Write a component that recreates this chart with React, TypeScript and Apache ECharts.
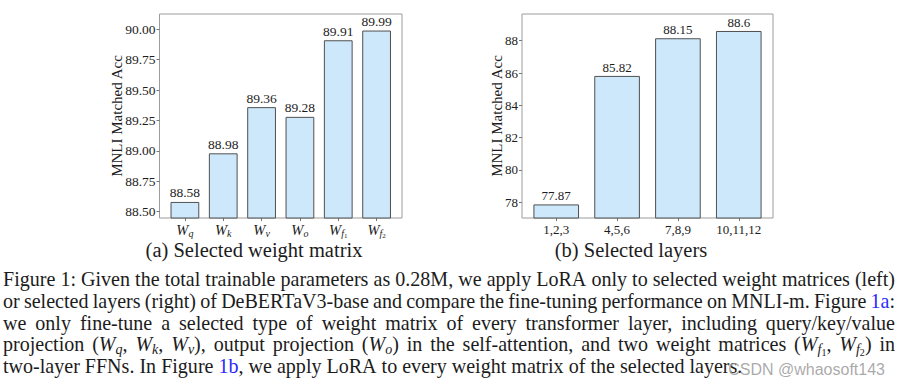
import React, { useEffect, useRef } from "react";
import * as echarts from "echarts";

const SERIF = "Liberation Serif, Times New Roman, Times, serif";
const SANS = "Liberation Sans, Arial, sans-serif";
const TEXT = "#1c1c1c";
const BAR_FILL = "#cce8fa";
const BAR_EDGE = "#505050";
const FRAME = "#9c9c9c";

// ---- (a) Selected weight matrix ----
const weightCategories = ["Wq", "Wk", "Wv", "Wo", "Wf1", "Wf2"];
const weightTickLabels = [
  "{w|W}{s|q}",
  "{w|W}{s|k}",
  "{w|W}{s|v}",
  "{w|W}{s|o}",
  "{w|W}{s|f}{ss|1}",
  "{w|W}{s|f}{ss|2}",
];
const weightAcc = [88.58, 88.98, 89.36, 89.28, 89.91, 89.99];
const weightYTicks = [88.5, 88.75, 89.0, 89.25, 89.5, 89.75, 90.0];

// ---- (b) Selected layers ----
const layerCategories = ["1,2,3", "4,5,6", "7,8,9", "10,11,12"];
const layerAcc = [77.87, 85.82, 88.15, 88.6];
const layerYTicks = [78, 80, 82, 84, 86, 88];

const yAxisName = "MNLI Matched Acc";
const subtitleA = "(a) Selected weight matrix";
const subtitleB = "(b) Selected layers";

const captionLines = [
  "Figure 1: Given the total trainable parameters as 0.28M, we apply LoRA only to selected weight matrices (left)",
  "or selected layers (right) of DeBERTaV3-base and compare the fine-tuning performance on MNLI-m. Figure {b|1a}:",
  "we only fine-tune a selected type of weight matrix of every transformer layer, including query/key/value",
  "projection ({i|W}{s|q}, {i|W}{s|k}, {i|W}{s|v}), output projection ({i|W}{s|o}) in the self-attention, and two weight matrices ({i|W}{s|f}{ss|1}, {i|W}{s|f}{ss|2}) in",
  "two-layer FFNs. In Figure {b|1b}, we apply LoRA to every weight matrix of the selected layers.",
];
const watermark = "CSDN @whaosoft143";

let measureCtx: CanvasRenderingContext2D | null = null;
function textWidth(t: string, font: string): number {
  if (!measureCtx) measureCtx = document.createElement("canvas").getContext("2d");
  measureCtx!.font = font;
  return measureCtx!.measureText(t).width;
}

function parseWord(word: string) {
  const segs: { st: string; txt: string }[] = [];
  const re = /\{(\w+)\|([^}]*)\}|([^{]+)/g;
  let m: RegExpExecArray | null;
  while ((m = re.exec(word))) {
    if (m[1]) segs.push({ st: m[1], txt: m[2] });
    else segs.push({ st: "n", txt: m[3] });
  }
  return segs;
}

function captionFonts(F: number) {
  return {
    n: `${F.toFixed(2)}px ${SERIF}`,
    i: `italic ${F.toFixed(2)}px ${SERIF}`,
    b: `${F.toFixed(2)}px ${SERIF}`,
    s: `italic ${(F * 0.7).toFixed(2)}px ${SERIF}`,
    ss: `${(F * 0.5).toFixed(2)}px ${SERIF}`,
  } as Record<string, string>;
}

function buildCaption() {
  const X0 = 3;
  const X1 = 895;
  const T = X1 - X0;
  const f100 = captionFonts(100);
  const w1 = captionLines[0].split(" ");
  let sum100 = 0;
  w1.forEach((w) => parseWord(w).forEach((s) => (sum100 += textWidth(s.txt, f100[s.st]))));
  const sp100 = textWidth(" ", f100.n);
  let F = (T * 100) / (sum100 + sp100 * (w1.length - 1));
  F = Math.max(16, Math.min(21, F));
  const fonts = captionFonts(F);
  const L = 22;
  const firstBaseline = 285.6;
  const lineStep = 21.9;
  const els: any[] = [];
  captionLines.forEach((line, li) => {
    const words = line.split(" ").map(parseWord);
    let sum = 0;
    words.forEach((segs) => segs.forEach((s) => (sum += textWidth(s.txt, fonts[s.st]))));
    const justified = li < captionLines.length - 1;
    const gap = justified ? (T - sum) / (words.length - 1) : textWidth(" ", fonts.n);
    const text = words
      .map((segs) => segs.map((s) => `{${s.st}|${s.txt}}`).join(""))
      .join("{g| }");
    const baseline = firstBaseline + li * lineStep;
    const top = baseline - L / 2 - 0.34 * F;
    els.push({
      type: "text",
      x: X0,
      y: top,
      silent: true,
      style: {
        text,
        font: fonts.n,
        fill: TEXT,
        align: "left",
        verticalAlign: "top",
        lineHeight: L,
        rich: {
          n: { font: fonts.n, fill: TEXT, verticalAlign: "middle", lineHeight: L },
          i: { font: fonts.i, fill: TEXT, verticalAlign: "middle", lineHeight: L },
          b: { font: fonts.b, fill: "#2a2aff", verticalAlign: "middle", lineHeight: L },
          s: { font: fonts.s, fill: TEXT, verticalAlign: "bottom", height: 12.4 },
          ss: { font: fonts.ss, fill: TEXT, verticalAlign: "bottom", height: 5 },
          g: { font: fonts.n, fill: TEXT, width: gap, lineHeight: L, verticalAlign: "middle" },
        },
      },
    });
  });
  return els;
}

// rich-text wrappers so that the serif face is applied reliably
const richA = { t: { fontFamily: SERIF, fontSize: 13.5, color: TEXT } };
const richB = { t: { fontFamily: SERIF, fontSize: 13, color: TEXT } };
const richName = { t: { fontFamily: SERIF, fontSize: 15, color: TEXT } };
const wrap = (s: string) => `{t|${s}}`;

function graphicRichText(x: number, y: number, text: string, size: number, align: string) {
  const font = `${size}px ${SERIF}`;
  return {
    type: "text", x, y, silent: true,
    style: {
      text: wrap(text), font, fill: TEXT, align, verticalAlign: "middle",
      rich: { t: { font, fill: TEXT } },
    },
  };
}

function makeOption() {
  const xIdxA = weightCategories.map((_, i) => i);
  const xIdxB = layerCategories.map((_, i) => i);
  const hiddenLine = { show: false, onZero: false };
  return {
    animation: false,
    backgroundColor: "#ffffff",
    textStyle: { fontFamily: SERIF, color: TEXT },
    grid: [
      {
        left: 159.5, top: 14, width: 242.5, height: 204,
        show: true, borderColor: FRAME, borderWidth: 1, backgroundColor: "transparent",
        containLabel: false, outerBoundsMode: "none",
      },
      {
        left: 522, top: 14, width: 251, height: 204,
        show: true, borderColor: FRAME, borderWidth: 1, backgroundColor: "transparent",
        containLabel: false, outerBoundsMode: "none",
      },
    ],
    xAxis: [
      {
        gridIndex: 0, type: "value", min: -0.6625, max: 5.6625,
        axisLine: hiddenLine, splitLine: { show: false },
        axisTick: { show: true, customValues: xIdxA, length: 3, lineStyle: { color: "#777" } },
        axisLabel: {
          customValues: xIdxA, margin: 4,
          formatter: (v: number) => weightTickLabels[Math.round(v)],
          rich: {
            w: { fontFamily: SERIF, fontStyle: "italic", fontSize: 14.5, color: TEXT, lineHeight: 15, verticalAlign: "middle" },
            s: { fontFamily: SERIF, fontStyle: "italic", fontSize: 10, color: TEXT, height: 7.5, verticalAlign: "bottom" },
            ss: { fontFamily: SERIF, fontSize: 7, color: TEXT, height: 3, verticalAlign: "bottom" },
          },
        },
      },
      {
        gridIndex: 1, type: "value", min: -0.5625, max: 3.5625,
        axisLine: hiddenLine, splitLine: { show: false },
        axisTick: { show: true, customValues: xIdxB, length: 3, lineStyle: { color: "#777" } },
        axisLabel: {
          customValues: xIdxB, margin: 5, rich: richB,
          formatter: (v: number) => wrap(layerCategories[Math.round(v)]),
        },
      },
    ],
    yAxis: [
      {
        gridIndex: 0, type: "value", min: 88.448, max: 90.126,
        name: wrap(yAxisName), nameLocation: "middle", nameGap: 35, nameRotate: 90,
        nameMoveOverlap: false,
        nameTextStyle: { fontFamily: SERIF, fontSize: 15, color: TEXT, rich: richName },
        axisLine: hiddenLine, splitLine: { show: false },
        axisTick: { show: true, customValues: weightYTicks, length: 3, lineStyle: { color: "#777" } },
        axisLabel: {
          customValues: weightYTicks, margin: 4, rich: richA,
          formatter: (v: number) => wrap(v.toFixed(2)),
        },
      },
      {
        gridIndex: 1, type: "value", min: 77.03, max: 89.65,
        name: wrap(yAxisName), nameLocation: "middle", nameGap: 17.5, nameRotate: 90,
        nameMoveOverlap: false,
        nameTextStyle: { fontFamily: SERIF, fontSize: 15, color: TEXT, rich: richName },
        axisLine: hiddenLine, splitLine: { show: false },
        axisTick: { show: true, customValues: layerYTicks, length: 3, lineStyle: { color: "#777" } },
        axisLabel: {
          customValues: layerYTicks, margin: 4, rich: richB,
          formatter: (v: number) => wrap(String(v)),
        },
      },
    ],
    series: [
      {
        type: "bar", name: "weight matrix", xAxisIndex: 0, yAxisIndex: 0,
        data: weightAcc.map((v, i) => [i, v]),
        barWidth: "75%",
        itemStyle: { color: BAR_FILL, borderColor: BAR_EDGE, borderWidth: 1 },
        label: {
          show: true, position: "top", distance: 2, rich: richA,
          formatter: (p: any) => wrap(String(p.value[1])),
        },
      },
      {
        type: "bar", name: "layers", xAxisIndex: 1, yAxisIndex: 1,
        data: layerAcc.map((v, i) => [i, v]),
        barWidth: "75%",
        itemStyle: { color: BAR_FILL, borderColor: BAR_EDGE, borderWidth: 1 },
        label: {
          show: true, position: "top", distance: 2, rich: richB,
          formatter: (p: any) => wrap(String(p.value[1])),
        },
      },
    ],
    graphic: {
      elements: [
        graphicRichText(254, 249.5, subtitleA, 20.5, "center"),
        graphicRichText(631, 249.5, subtitleB, 20.5, "center"),
        ...buildCaption(),
        {
          type: "text", x: 885, y: 369, silent: true, z: 100,
          style: { text: watermark, font: `16px ${SANS}`, fill: "#9a9a9a", opacity: 0.85, align: "right", verticalAlign: "middle" },
        },
      ],
    },
  };
}

export default function App() {
  const ref = useRef<HTMLDivElement>(null);
  useEffect(() => {
    if (!ref.current) return;
    const chart = echarts.init(ref.current, null, { renderer: "svg", width: 902, height: 385 });
    chart.setOption(makeOption() as any);
    return () => chart.dispose();
  }, []);
  return (
    <div
      ref={ref}
      style={{ position: "fixed", left: 0, top: 0, width: 902, height: 385, background: "#ffffff" }}
    />
  );
}
